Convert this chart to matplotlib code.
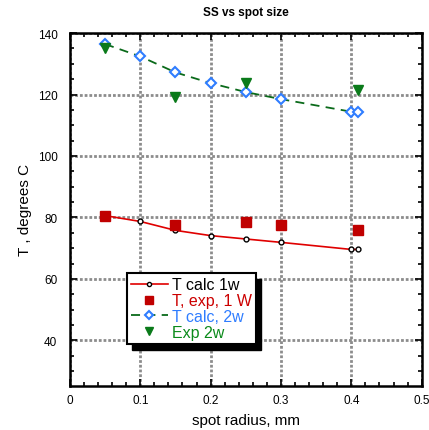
import matplotlib
matplotlib.use("Agg")
import matplotlib.pyplot as plt
from matplotlib.patches import Rectangle
from matplotlib.transforms import IdentityTransform
from matplotlib.ticker import MultipleLocator

plt.rcParams['font.family'] = ['Liberation Sans', 'DejaVu Sans']

# spot radius, mm
r_calc = [0.05, 0.1, 0.15, 0.2, 0.25, 0.3, 0.4, 0.41]
t_calc_1w = [80.6, 78.7, 75.8, 74.1, 73.0, 71.9, 69.6, 69.6]
t_calc_2w = [136.4, 132.4, 127.2, 123.7, 120.8, 118.5, 114.4, 114.4]

r_exp = [0.05, 0.15, 0.25, 0.3, 0.41]
t_exp_1w = [80.6, 77.6, 78.4, 77.6, 76.0]

r_exp2 = [0.05, 0.15, 0.25, 0.41]
t_exp_2w = [135.1, 119.2, 123.8, 121.5]

fig = plt.figure(figsize=(4.29, 4.31), dpi=100)
ax = fig.add_axes([0.163, 0.103, 0.82, 0.818])

ax.plot(r_calc, t_calc_1w, color='#e00000', lw=1.2, marker='o', ms=3.5,
        mfc='white', mec='black', mew=1.0, label='T calc 1w', zorder=3)
ax.plot(r_exp, t_exp_1w, ls='none', marker='s', ms=7.5, color='#c00000',
        label='T, exp, 1 W', zorder=4)
ax.plot(r_calc, t_calc_2w, color='#0a6a1a', lw=1.3, ls=(0, (5, 3.5)),
        marker='D', ms=5.2, mfc='white', mec='#2f7dff', mew=1.5,
        label='T calc, 2w', zorder=3)
ax.plot(r_exp2, t_exp_2w, ls='none', marker='v', ms=6.5, color='#0a7a1a',
        label='Exp 2w', zorder=4)

ax.set_xlim(0, 0.5)
ax.set_ylim(25.3, 140)
ax.xaxis.set_minor_locator(MultipleLocator(0.02))
ax.yaxis.set_minor_locator(MultipleLocator(5))
ax.set_yticks([40, 60, 80, 100, 120, 140])
ax.set_xticks([0, 0.1, 0.2, 0.3, 0.4, 0.5])
ax.set_xticklabels(['0', '0.1', '0.2', '0.3', '0.4', '0.5'])

ax.tick_params(which='both', direction='in', top=True, right=True,
               labelsize=8.5, width=1.2)
ax.tick_params(which='major', length=5)
ax.tick_params(which='minor', length=3)
ax.tick_params(axis='x', which='major', pad=6)
ax.tick_params(axis='y', which='major', pad=9)
for s in ax.spines.values():
    s.set_linewidth(1.8)

ax.grid(True, which='major', color='0.55', ls=(0, (1, 0.7)), lw=2.0)
ax.set_axisbelow(True)

ax.set_title('SS vs spot size', fontsize=8.5, fontweight='bold', pad=13)
ax.set_xlabel('spot radius, mm', fontsize=11, labelpad=5)
ax.set_ylabel('T , degrees C', fontsize=11, labelpad=4)

leg = ax.legend(loc='upper left', bbox_to_anchor=(0.162, 0.318),
                borderaxespad=0, fontsize=11.5, frameon=True, fancybox=False,
                labelspacing=0.05, handlelength=2.3, handletextpad=0.3,
                borderpad=0.25, markerscale=0.85)
leg.get_frame().set_edgecolor('black')
leg.get_frame().set_linewidth(1.5)
leg.get_frame().set_alpha(1)
for txt, c in zip(leg.get_texts(), ['black', '#cc0000', '#2f7dff', '#0a8a1a']):
    txt.set_color(c)

# solid drop shadow behind the legend box
fig.canvas.draw()
bb = leg.get_window_extent()
ax.add_patch(Rectangle((bb.x0 + 5, bb.y0 - 6), bb.width, bb.height,
                       transform=IdentityTransform(), color='black',
                       zorder=leg.get_zorder() - 0.1, clip_on=False))

fig.savefig('out.png', dpi=100)
